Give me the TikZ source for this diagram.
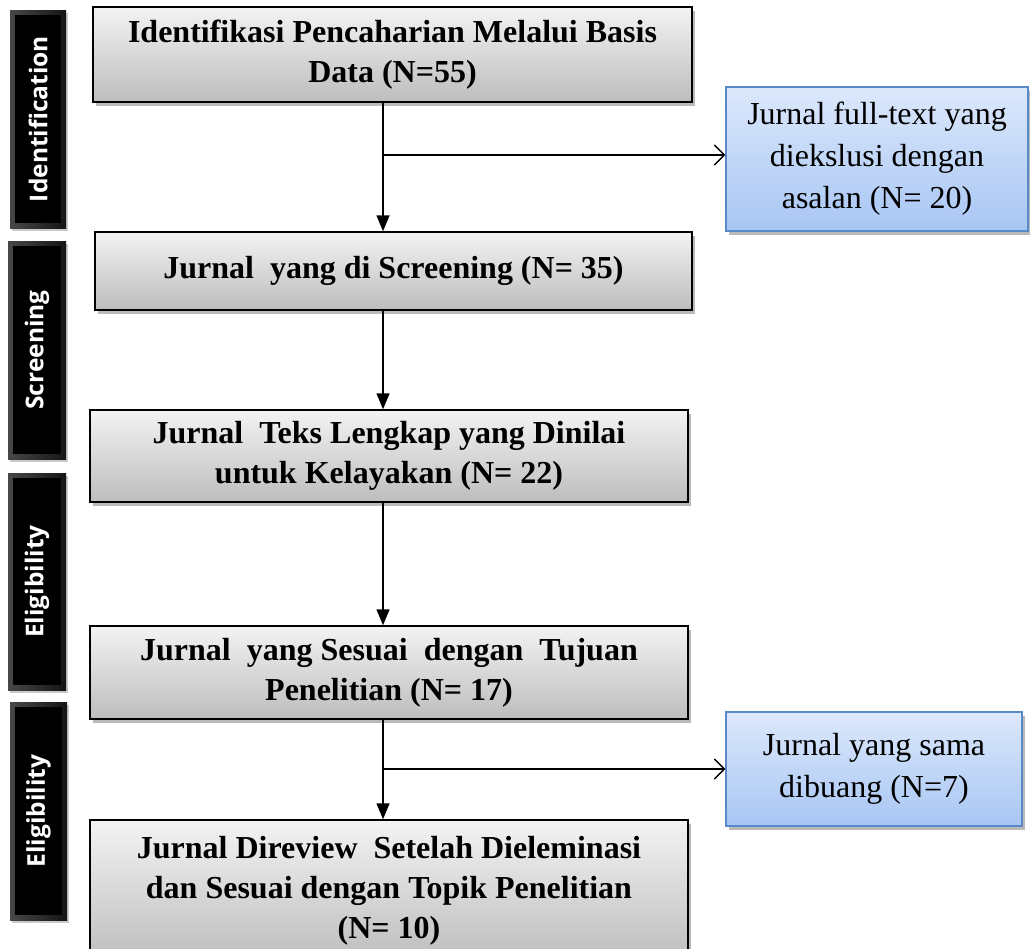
\documentclass[tikz,border=0pt]{standalone}
\usepackage{fontspec}
\setmainfont{Liberation Serif}
\newfontfamily\barfont{Open Sans}
\usetikzlibrary{shadows,arrows.meta}
\definecolor{bluetop}{HTML}{DCE8FB}
\definecolor{bluebot}{HTML}{A8C6F4}
\definecolor{blueline}{HTML}{5A8AC6}
\definecolor{graytop}{HTML}{F3F3F3}
\definecolor{graybot}{HTML}{BDBDBD}
\begin{document}
\begin{tikzpicture}[x=1pt,y=-1pt,
  graybox/.style={draw=black, line width=1.5pt, top color=graytop, bottom color=graybot,
    drop shadow={shadow xshift=3pt,shadow yshift=-4pt,opacity=0.45,fill=black!60},
    align=center, font=\fontsize{32}{40}\selectfont\bfseries, inner sep=0pt},
  bluebox/.style={draw=blueline, line width=1.2pt, top color=bluetop, bottom color=bluebot,
    drop shadow={shadow xshift=3pt,shadow yshift=-4pt,opacity=0.45,fill=black!60},
    align=center, font=\fontsize{32}{42}\selectfont, inner sep=0pt},
  phase/.style={left color=black!72, right color=black!92, inner sep=0pt,
    drop shadow={shadow xshift=2pt,shadow yshift=-3pt,opacity=0.35,fill=black!60}},
  phasetext/.style={rotate=90, text=white, font=\barfont\bfseries\fontsize{24.5}{25}\selectfont},
  flow/.style={line width=1.5pt, -{Triangle[length=16pt,width=13pt]}},
  side/.style={line width=1.5pt, -{Straight Barb[length=10pt,width=20pt,line width=1.5pt]}}
]
\useasboundingbox (0,0) rectangle (1030,948);

% phase bars
\node[phase, minimum width=56pt, minimum height=218pt] (p1) at (38,119) {};
\node[phase, minimum width=58pt, minimum height=218pt] (p2) at (37,350) {};
\node[phase, minimum width=58pt, minimum height=217pt] (p3) at (37,581.5) {};
\node[phase, minimum width=57pt, minimum height=218pt] (p4) at (38.5,811) {};
\foreach \p in {p1,p2,p3,p4}{
  \fill[black] ([shift={(5,5)}]\p.north west) rectangle ([shift={(-5,-5)}]\p.south east);
}
\node[phasetext] (t1) at (p1.center) {Identification};
\node[phasetext] (t2) at (p2.center) {Screening};
\node[phasetext] (t3) at (p3.center) {Eligibility};
\node[phasetext] (t4) at (p4.center) {Eligibility};

% main boxes
\node[graybox, minimum width=599pt, minimum height=95pt] (b1) at (392.5,54.5)
  {Identifikasi Pencaharian Melalui Basis\\Data (N=55)};
\node[graybox, minimum width=597pt, minimum height=78pt] (b2) at (393.5,271)
  {Jurnal\ \ yang di Screening (N= 35)};
\node[graybox, minimum width=598pt, minimum height=92pt] (b3) at (389,456)
  {Jurnal\ \ Teks Lengkap yang Dinilai\\untuk Kelayakan (N= 22)};
\node[graybox, minimum width=598pt, minimum height=93pt] (b4) at (389,672.5)
  {Jurnal\ \ yang Sesuai\ \ dengan\ \ Tujuan\\Penelitian (N= 17)};
\node[graybox, minimum width=598pt, minimum height=142pt] (b5) at (389,891)
  {Jurnal Direview\ \ Setelah Dieleminasi\\dan Sesuai dengan Topik Penelitian\\(N= 10)};

% side boxes
\node[bluebox, minimum width=302pt, minimum height=144pt] (s1) at (877,159)
  {Jurnal full-text yang\\diekslusi dengan\\asalan (N= 20)};
\node[bluebox, minimum width=296pt, minimum height=114pt] (s2) at (874,769)
  {Jurnal yang sama\\dibuang (N=7)};

% connectors
\coordinate (vx) at (383,0);
\coordinate (j1) at (383,155);
\coordinate (j2) at (383,769);
\draw[flow] (b1.south -| vx) -- (b2.north -| vx);
\draw[flow] (b2.south -| vx) -- (b3.north -| vx);
\draw[flow] (b3.south -| vx) -- (b4.north -| vx);
\draw[flow] (b4.south -| vx) -- (b5.north -| vx);
\draw[side] (j1) -- (j1 -| s1.west);
\draw[side] (j2) -- (j2 -| s2.west);
\end{tikzpicture}
\end{document}
